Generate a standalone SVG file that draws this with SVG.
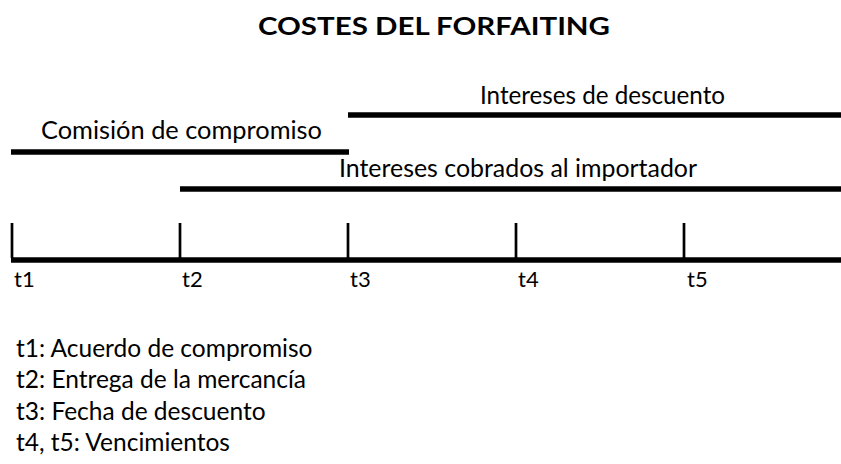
<svg xmlns="http://www.w3.org/2000/svg" width="841" height="464" viewBox="0 0 841 464">
<style>
text{font-family:Lato,"Open Sans","Liberation Sans",sans-serif;fill:#000}
.t{font-size:24px;font-weight:bold}
.l{font-size:25px}
.g{font-size:24.5px}
.n{font-size:22px}
.bar{stroke:#000;stroke-width:5.5;fill:none}
.tick{stroke:#000;stroke-width:2.7;fill:none}
</style>
<rect width="841" height="464" fill="#fff"/>
<g id="title"><text class="t" x="258" y="35" textLength="352" lengthAdjust="spacingAndGlyphs">COSTES DEL FORFAITING</text></g>
<g id="connectors">
<line class="bar" x1="348" y1="115" x2="841" y2="115"/>
<line class="bar" x1="11" y1="152" x2="349" y2="152"/>
<line class="bar" x1="180" y1="189" x2="841" y2="189"/>
<line class="bar" x1="11" y1="260" x2="841" y2="260"/>
<line class="tick" x1="12" y1="223" x2="12" y2="258"/>
<line class="tick" x1="180" y1="223" x2="180" y2="258"/>
<line class="tick" x1="348" y1="223" x2="348" y2="258"/>
<line class="tick" x1="516" y1="223" x2="516" y2="258"/>
<line class="tick" x1="684" y1="223" x2="684" y2="258"/>
</g>
<g id="intereses-descuento"><text class="l" x="480" y="104" textLength="245" lengthAdjust="spacingAndGlyphs">Intereses de descuento</text></g>
<g id="comision"><text class="l" x="41" y="139" textLength="281" lengthAdjust="spacingAndGlyphs">Comisión de compromiso</text></g>
<g id="intereses-cobrados"><text class="l" x="339" y="177" textLength="358" lengthAdjust="spacingAndGlyphs">Intereses cobrados al importador</text></g>
<g id="t1"><text class="n" x="14" y="287">t1</text></g>
<g id="t2"><text class="n" x="182" y="287">t2</text></g>
<g id="t3"><text class="n" x="350" y="287">t3</text></g>
<g id="t4"><text class="n" x="518" y="287">t4</text></g>
<g id="t5"><text class="n" x="687" y="287">t5</text></g>
<g id="legend">
<text class="g" x="16" y="357">t1: Acuerdo de compromiso</text>
<text class="g" x="16" y="388">t2: Entrega de la mercancía</text>
<text class="g" x="16" y="420">t3: Fecha de descuento</text>
<text class="g" x="16" y="451">t4, t5: Vencimientos</text>
</g>
</svg>
